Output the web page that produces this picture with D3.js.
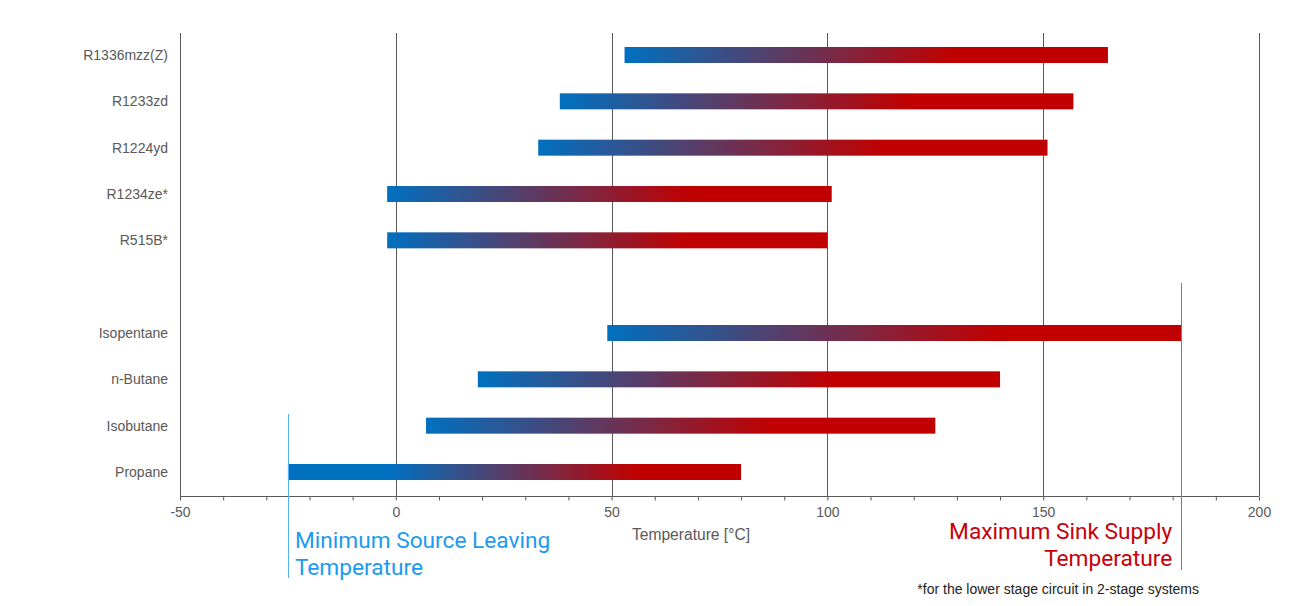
<!DOCTYPE html>
<html lang="en">
<head>
    <script src="https://d3js.org/d3.v7.min.js"></script>
    <title>Refrigerant temperature ranges</title>
    <style>
        body {margin: 0; background: #fff;}
        svg {display: block;}
        .cat {font-family: "Liberation Sans", Arial, sans-serif; font-size: 14px; fill: #595959;}
        .tick text {font-family: "Liberation Sans", Arial, sans-serif; font-size: 14px; fill: #595959;}
        .note {font-family: Roboto, "Noto Sans", sans-serif; font-size: 22.7px;}
        .foot {font-family: "Liberation Sans", Arial, sans-serif; font-size: 14px; fill: #222;}
    </style>
</head>
<body>
<svg width="1290" height="606"></svg>

<script>
    // refrigerants, top to bottom ('' = empty row between the two groups)
    var names = ['R1336mzz(Z)', 'R1233zd', 'R1224yd', 'R1234ze*', 'R515B*', '',
                 'Isopentane', 'n-Butane', 'Isobutane', 'Propane'];
    // min source leaving / max sink supply temperature [°C]
    var minTemp = [53, 38, 33, -2, -2, null, 49, 19, 7, -25];
    var maxTemp = [165, 157, 151, 101, 100, null, 182, 140, 125, 80];
    var xTicks = [-50, 0, 50, 100, 150, 200];
    var sourceLimit = -25;   // minimum source leaving temperature
    var sinkLimit = 182;     // maximum sink supply temperature

    var blue = '#0070c0', red = '#c00000';
    // where the gradient is still fully blue / already fully red
    var gradStops = {'Propane': [0.23, 0.77]};
    var defaultStops = [0, 0.68];

    var svg = d3.select('svg');
    var x = d3.scaleLinear().domain([-50, 200]).range([180, 1259]);
    var y = d3.scalePoint().domain(names).range([55, 472]);
    var plotTop = 33, plotBottom = 496, barH = 16;

    // vertical grid lines
    svg.append('g').selectAll('line')
        .data(xTicks).enter().append('line')
        .attr('x1', d => Math.round(x(d)) + 0.5).attr('x2', d => Math.round(x(d)) + 0.5)
        .attr('y1', plotTop).attr('y2', plotBottom)
        .attr('stroke', '#595959').attr('stroke-width', 1);

    // x axis
    var axis = d3.axisBottom(x).tickValues(d3.range(-50, 201, 10))
        .tickSize(4).tickFormat(d => xTicks.includes(d) ? d : '');
    var ax = svg.append('g').attr('transform', 'translate(0,' + (plotBottom + 0.5) + ')').call(axis);
    ax.select('.domain').attr('stroke', '#595959').attr('d', 'M180,0H1259');
    ax.selectAll('.tick line').attr('stroke', '#595959');
    ax.selectAll('.tick text').attr('dy', '0.93em');

    svg.append('text').attr('class', 'cat')
        .attr('x', 691).attr('y', 540).attr('text-anchor', 'middle')
        .style('font-size', '15.6px')
        .text('Temperature [°C]');

    // gradients, one per bar
    var rows = names.map((n, i) => ({name: n, lo: minTemp[i], hi: maxTemp[i], i: i}))
        .filter(d => d.lo !== null);
    var defs = svg.append('defs');
    rows.forEach(d => {
        var s = gradStops[d.name] || defaultStops;
        var g = defs.append('linearGradient').attr('id', 'grad' + d.i)
            .attr('x1', '0').attr('x2', '1').attr('y1', '0').attr('y2', '0');
        g.append('stop').attr('offset', s[0]).attr('stop-color', blue);
        g.append('stop').attr('offset', s[1]).attr('stop-color', red);
    });

    // bars
    svg.append('g').selectAll('rect')
        .data(rows).enter().append('rect')
        .attr('x', d => x(d.lo)).attr('width', d => x(d.hi) - x(d.lo))
        .attr('y', d => y(d.name) - barH / 2).attr('height', barH)
        .attr('fill', d => 'url(#grad' + d.i + ')');

    // category labels
    svg.append('g').selectAll('text')
        .data(rows).enter().append('text')
        .attr('class', 'cat')
        .attr('x', 168).attr('y', d => y(d.name)).attr('dy', '0.35em')
        .attr('text-anchor', 'end')
        .text(d => d.name);

    // limit lines
    svg.append('line')
        .attr('x1', Math.round(x(sourceLimit)) + 0.5).attr('x2', Math.round(x(sourceLimit)) + 0.5)
        .attr('y1', 414).attr('y2', 578)
        .attr('stroke', '#55b4f0').attr('stroke-width', 1);
    svg.append('line')
        .attr('x1', Math.round(x(sinkLimit)) + 0.5).attr('x2', Math.round(x(sinkLimit)) + 0.5)
        .attr('y1', 283).attr('y2', 570)
        .attr('stroke', '#e85050').attr('stroke-width', 1);

    var minNote = svg.append('text').attr('class', 'note').attr('fill', '#1a9bef')
        .attr('x', x(sourceLimit) + 7).attr('y', 548);
    minNote.append('tspan').text('Minimum Source Leaving');
    minNote.append('tspan').attr('x', x(sourceLimit) + 7).attr('dy', 27).text('Temperature');

    var maxNote = svg.append('text').attr('class', 'note').attr('fill', '#c8000a')
        .attr('x', x(sinkLimit) - 9).attr('y', 539).attr('text-anchor', 'end');
    maxNote.append('tspan').text('Maximum Sink Supply');
    maxNote.append('tspan').attr('x', x(sinkLimit) - 9).attr('dy', 27).text('Temperature');

    svg.append('text').attr('class', 'foot')
        .attr('x', 1199).attr('y', 594).attr('text-anchor', 'end')
        .text('*for the lower stage circuit in 2-stage systems');
</script>
</body>
</html>
